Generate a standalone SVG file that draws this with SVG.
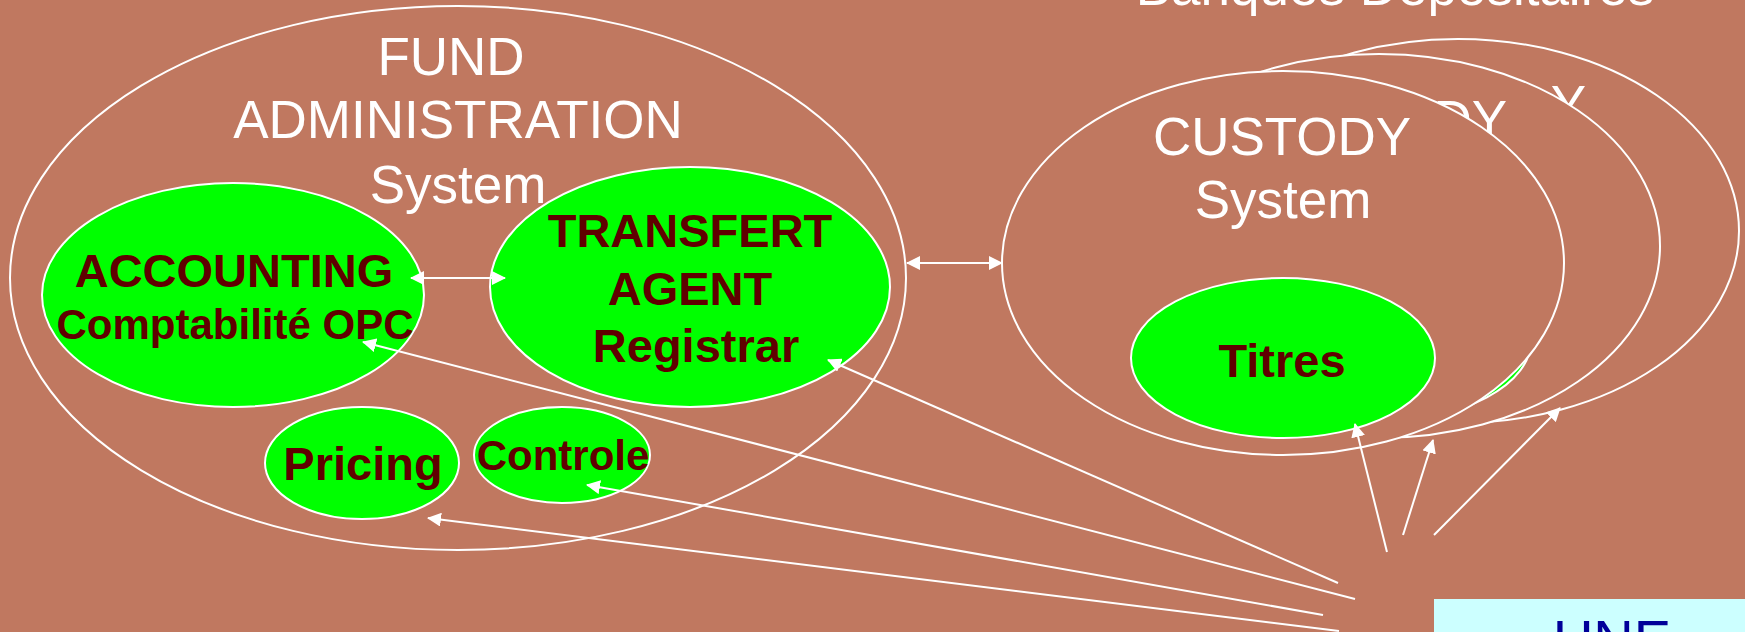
<svg xmlns="http://www.w3.org/2000/svg" width="1745" height="632" viewBox="0 0 1745 632">
<style>
.sys{fill:#C07860;stroke:#FFFFFF;stroke-width:2}
.mod{fill:#00FF00;stroke:#FFFFFF;stroke-width:2}
.wt{font-family:"Liberation Sans",Arial,sans-serif;font-size:53px;fill:#FFFFFF;text-anchor:middle}
.rt{font-family:"Liberation Sans",Arial,sans-serif;font-weight:bold;font-size:47px;fill:#600000;text-anchor:middle}
.cn{stroke:#FFFFFF;stroke-width:2;fill:none}
</style>
<defs>
<marker id="ah" viewBox="0 0 14 14" refX="13" refY="7" markerWidth="14" markerHeight="14" markerUnits="userSpaceOnUse" orient="auto-start-reverse">
<path d="M0,0 L14,7 L0,14 z" fill="#FFFFFF"/>
</marker>
</defs>
<rect x="0" y="0" width="1745" height="632" fill="#C07860"/>
<text class="wt" x="1395" y="5">Banques Dépositaires</text>

<g id="fund-admin">
<ellipse class="sys" cx="458" cy="278" rx="448" ry="272"/>
<text class="wt" x="451" y="75">FUND</text>
<text class="wt" x="458" y="138">ADMINISTRATION</text>
<text class="wt" x="458" y="203">System</text>
</g>
<g id="accounting">
<ellipse class="mod" cx="233" cy="295" rx="191" ry="112"/>
<text class="rt" x="234" y="287">ACCOUNTING</text>
<text class="rt" x="235" y="339" style="font-size:42px">Comptabilité OPC</text>
</g>
<g id="transfert">
<ellipse class="mod" cx="690" cy="287" rx="200" ry="120"/>
<text class="rt" x="690" y="247">TRANSFERT</text>
<text class="rt" x="690" y="305">AGENT</text>
<text class="rt" x="696" y="362">Registrar</text>
</g>
<g id="pricing">
<ellipse class="mod" cx="362" cy="463" rx="97" ry="56"/>
<text class="rt" x="363" y="480">Pricing</text>
</g>
<g id="controle">
<ellipse class="mod" cx="562" cy="455" rx="88" ry="48"/>
<text class="rt" x="563" y="470" style="font-size:42px">Controle</text>
</g>

<g id="custody-3" transform="translate(175,-32)">
<ellipse class="sys" cx="1283" cy="263" rx="281" ry="192"/>
<text class="wt" x="1282" y="155">CUSTODY</text>
<text class="wt" x="1283" y="218">System</text>
<ellipse class="mod" cx="1283" cy="358" rx="152" ry="80"/>
<text class="rt" x="1282" y="377">Titres</text>
</g>
<g id="custody-2" transform="translate(96,-17)">
<ellipse class="sys" cx="1283" cy="263" rx="281" ry="192"/>
<text class="wt" x="1282" y="155">CUSTODY</text>
<text class="wt" x="1283" y="218">System</text>
<ellipse class="mod" cx="1283" cy="358" rx="152" ry="80"/>
<text class="rt" x="1282" y="377">Titres</text>
</g>
<g id="custody-1">
<ellipse class="sys" cx="1283" cy="263" rx="281" ry="192"/>
<text class="wt" x="1282" y="155">CUSTODY</text>
<text class="wt" x="1283" y="218">System</text>
</g>
<g id="titres">
<ellipse class="mod" cx="1283" cy="358" rx="152" ry="80"/>
<text class="rt" x="1282" y="377">Titres</text>
</g>

<g id="line-box">
<rect x="1434" y="599" width="311" height="33" fill="#CCFFFF"/>
<text x="1612" y="659" style="font-family:'Liberation Sans',Arial,sans-serif;font-size:56px;fill:#000099;text-anchor:middle">UNE</text>
</g>

<g id="connectors" class="cn">
<line x1="411" y1="278" x2="505" y2="278" marker-start="url(#ah)" marker-end="url(#ah)"/>
<line x1="907" y1="263" x2="1002" y2="263" marker-start="url(#ah)" marker-end="url(#ah)"/>
<line x1="1338" y1="583" x2="828" y2="360" marker-end="url(#ah)"/>
<line x1="1355" y1="599" x2="363" y2="342" marker-end="url(#ah)"/>
<line x1="1323" y1="615" x2="587" y2="485" marker-end="url(#ah)"/>
<line x1="1339" y1="631" x2="428" y2="518" marker-end="url(#ah)"/>
<line x1="1387" y1="552" x2="1355" y2="424" marker-end="url(#ah)"/>
<line x1="1403" y1="535" x2="1433" y2="440" marker-end="url(#ah)"/>
<line x1="1434" y1="535" x2="1560" y2="408" marker-end="url(#ah)"/>
</g>
</svg>
